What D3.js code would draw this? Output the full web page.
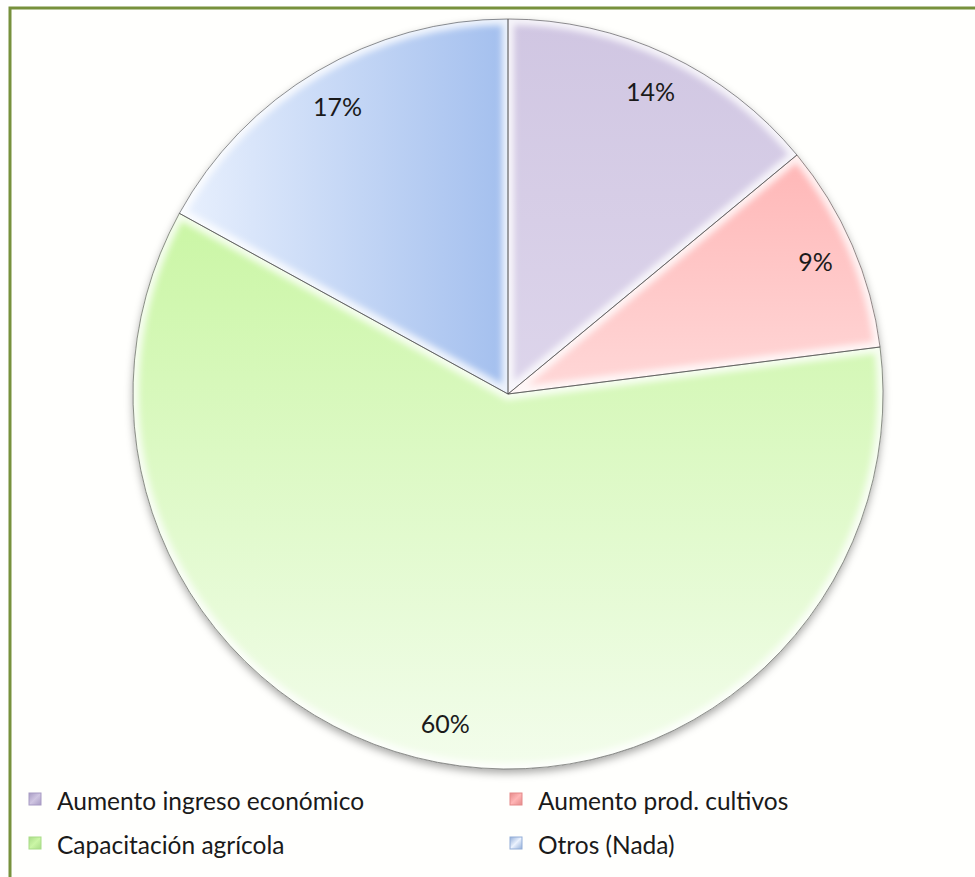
<!DOCTYPE html>
<html>
<head>
<meta charset="utf-8">
<script src="https://cdn.jsdelivr.net/npm/d3@7"></script>
<style>
  html, body { margin: 0; padding: 0; background: #ffffff; }
  svg { display: block; }
</style>
</head>
<body>
<svg id="chart" width="975" height="877"></svg>
<script>
// Share of responses by benefit category
const categories = ["Aumento ingreso económico", "Aumento prod. cultivos", "Capacitación agrícola", "Otros (Nada)"];
const values = [14, 9, 60, 17];
const percentLabels = ["14%", "9%", "60%", "17%"];

// Fill stops per slice: [start, end] of a linear gradient
const fillStops = [
  ["#d0c6e2", "#ddd5eb"],
  ["#ffb5b5", "#ffd8d8"],
  ["#cbf6a6", "#f3fdec"],
  ["#ebf2fe", "#a3bfee"]
];
const markerColors = ["#a89bc4", "#e58a8a", "#a9dc88", "#93aed8"];

const svg = d3.select("#chart");
const W = 975, H = 877;
const cx = 508, cy = 394, R = 375;

// Chart area frame (extends past the right/bottom edges)
svg.append("rect")
  .attr("x", 10).attr("y", 8)
  .attr("width", W + 20).attr("height", H + 20)
  .attr("fill", "#fffffd")
  .attr("stroke", "#77913d")
  .attr("stroke-width", 3);

const defs = svg.append("defs");

// Gradient vectors, relative to the pie centre
const gradSpecs = [
  { x1: 0, y1: -R, x2: 0, y2: 0 },
  { x1: 0, y1: -250, x2: 0, y2: 0 },
  { x1: 0, y1: -170, x2: 0, y2: R },
  { x1: -340, y1: 0, x2: 0, y2: 0 }
];
fillStops.forEach((s, i) => {
  const lg = defs.append("linearGradient")
    .attr("id", "grad" + i)
    .attr("gradientUnits", "userSpaceOnUse")
    .attr("x1", gradSpecs[i].x1).attr("y1", gradSpecs[i].y1)
    .attr("x2", gradSpecs[i].x2).attr("y2", gradSpecs[i].y2);
  lg.append("stop").attr("offset", "0%").attr("stop-color", s[0]);
  lg.append("stop").attr("offset", "100%").attr("stop-color", s[1]);
});

// Legend marker gradients
markerColors.forEach((c, i) => {
  const lg = defs.append("linearGradient")
    .attr("id", "mk" + i)
    .attr("x1", 0).attr("y1", 0).attr("x2", 1).attr("y2", 1);
  lg.append("stop").attr("offset", "0%").attr("stop-color", c);
  lg.append("stop").attr("offset", "50%").attr("stop-color", fillStops[i][0]);
  lg.append("stop").attr("offset", "100%").attr("stop-color", c);
});

const shadow = defs.append("filter").attr("id", "pieShadow")
  .attr("x", "-10%").attr("y", "-10%").attr("width", "120%").attr("height", "120%");
shadow.append("feDropShadow")
  .attr("dx", 0).attr("dy", 4).attr("stdDeviation", 4)
  .attr("flood-color", "#000").attr("flood-opacity", 0.35);

const glow = defs.append("filter").attr("id", "edgeGlow")
  .attr("x", "-10%").attr("y", "-10%").attr("width", "120%").attr("height", "120%");
glow.append("feGaussianBlur").attr("stdDeviation", 3);

const pie = d3.pie().sort(null).value(d => d)(values);
const arc = d3.arc().innerRadius(0).outerRadius(R);
const labelArc = d3.arc().innerRadius(335).outerRadius(335);

const g = svg.append("g").attr("transform", `translate(${cx},${cy})`);

// Pie body with soft shadow
g.append("g").attr("filter", "url(#pieShadow)")
  .selectAll("path.slice")
  .data(pie)
  .join("path")
  .attr("class", "slice")
  .attr("d", arc)
  .attr("fill", (d, i) => `url(#grad${i})`);

// Bevel highlight along slice edges (clipped to each slice)
pie.forEach((d, i) => {
  defs.append("clipPath").attr("id", "clip" + i)
    .append("path").attr("d", arc(d));
  g.append("g").attr("clip-path", `url(#clip${i})`)
    .append("path")
    .attr("d", arc(d))
    .attr("fill", "none")
    .attr("stroke", "#ffffff")
    .attr("stroke-width", 12)
    .attr("stroke-opacity", 0.8)
    .attr("filter", "url(#edgeGlow)");
});

// Thin slice outlines
g.selectAll("path.outline")
  .data(pie)
  .join("path")
  .attr("class", "outline")
  .attr("d", arc)
  .attr("fill", "none")
  .attr("stroke", "#4a4a4a")
  .attr("stroke-opacity", 0.6)
  .attr("stroke-width", 1);

// Percentage labels
g.selectAll("text.pct")
  .data(pie)
  .join("text")
  .attr("class", "pct")
  .attr("transform", d => `translate(${labelArc.centroid(d)})`)
  .attr("text-anchor", "middle")
  .attr("dominant-baseline", "central")
  .attr("font-family", "Lato, 'Open Sans', sans-serif")
  .attr("font-size", 25)
  .attr("fill", "#1a1a1a")
  .text((d, i) => percentLabels[i]);

// Legend: two columns, two rows
const legendX = d3.scaleOrdinal().domain([0, 1]).range([29, 510]);
const legendY = d3.scaleOrdinal().domain([0, 1]).range([799, 843]);
const legend = svg.append("g");
categories.forEach((c, i) => {
  const col = i % 2, row = Math.floor(i / 2);
  const item = legend.append("g")
    .attr("transform", `translate(${legendX(col)},${legendY(row)})`);
  item.append("rect")
    .attr("x", 0).attr("y", -6)
    .attr("width", 12).attr("height", 12)
    .attr("fill", `url(#mk${i})`)
    .attr("stroke", markerColors[i])
    .attr("stroke-width", 1);
  item.append("text")
    .attr("x", 28).attr("y", 1)
    .attr("dominant-baseline", "central")
    .attr("font-family", "Lato, 'Open Sans', sans-serif")
    .attr("font-size", 24.5)
    .attr("fill", "#1a1a1a")
    .text(c);
});
</script>
</body>
</html>
